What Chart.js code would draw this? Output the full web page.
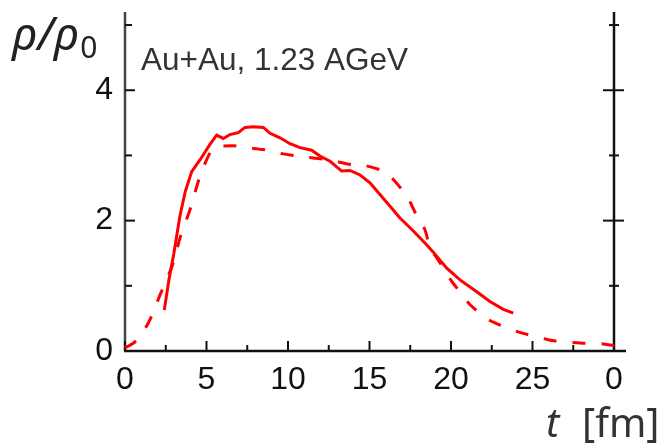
<!DOCTYPE html>
<html><head><meta charset="utf-8">
<script src="https://cdn.jsdelivr.net/npm/chart.js@4/dist/chart.umd.min.js"></script>
<style>html,body{margin:0;padding:0;background:#fff;overflow:hidden}#wrap{width:658px;height:445px}</style>
</head><body><div id="wrap"><canvas id="c" width="658" height="445"></canvas></div>
<script>
// ---- data ----
const solidT   = [2.41, 2.7, 3.0, 3.37, 3.7, 4.09, 4.6, 5.21, 5.62, 6.03, 6.44, 6.95, 7.36, 7.87, 8.49, 8.9, 9.51, 10.12, 10.74, 11.45, 11.96, 12.58, 13.29, 13.8, 14.42, 15.03, 15.64, 16.26, 16.87, 17.69, 18.5, 18.9, 19.74, 20.55, 21.58, 22.39, 23.21, 23.82];
const solidRho = [0.63, 1.1, 1.5, 2.07, 2.45, 2.75, 2.93, 3.17, 3.31, 3.26, 3.32, 3.35, 3.43, 3.44, 3.43, 3.34, 3.27, 3.18, 3.12, 3.08, 2.99, 2.91, 2.76, 2.77, 2.70, 2.58, 2.40, 2.22, 2.04, 1.84, 1.63, 1.52, 1.27, 1.09, 0.91, 0.76, 0.64, 0.58];
const dashT    = [0, 0.61, 1.43, 2.15, 2.96, 3.37, 3.99, 4.6, 5.21, 5.52, 6.64, 7.36, 8.49, 9.1, 10.33, 10.94, 12.5, 13.9, 14.62, 15.64, 16.15, 17.07, 17.48, 18.0, 18.4, 18.7, 19.2, 19.74, 20.04, 20.76, 21.17, 22.19, 22.7, 23.82, 24.43, 25.56, 26.2, 27.4, 28.1, 29.25, 29.96, 30.5];
const dashRho  = [0.05, 0.14, 0.43, 0.86, 1.35, 1.73, 2.17, 2.68, 3.04, 3.12, 3.15, 3.12, 3.09, 3.05, 3.0, 2.98, 2.93, 2.86, 2.85, 2.78, 2.71, 2.45, 2.29, 2.02, 1.86, 1.60, 1.40, 1.19, 1.07, 0.84, 0.71, 0.50, 0.43, 0.32, 0.27, 0.20, 0.16, 0.13, 0.12, 0.11, 0.09, 0.14];
const xTickValues = [0, 5, 10, 15, 20, 25, 30];
const xTickLabels = ['0', '5', '10', '15', '20', '25', '0'];
const xMinorValues = [2.5, 7.5, 12.5, 17.5, 22.5, 27.5];
const yTickValues = [0, 2, 4];
const yTickLabels = ['0', '2', '4'];
const yMinorValues = [1, 3, 5];
const annotationText = 'Au+Au, 1.23 AGeV';
const xTitleVar = 't';
const xTitleUnit = '[fm]';
const yTitleMain = 'ρ/ρ';
const yTitleSub = '0';

const toPts = (xs, ys) => xs.map((v, i) => ({x: v, y: ys[i]}));
const noPad = s => { s.paddingTop = 0; s.paddingBottom = 0; s.paddingLeft = 0; s.paddingRight = 0; };

const axisPlugin = {
  id: 'axisPlugin',
  beforeDatasetsDraw(chart) {
    const ctx = chart.ctx, a = chart.chartArea;
    const xs = chart.scales.x, ys = chart.scales.y;
    ctx.save();
    ctx.lineCap = 'butt';
    ctx.strokeStyle = '#444'; ctx.lineWidth = 2.5;
    ctx.beginPath(); ctx.moveTo(a.left, a.top); ctx.lineTo(a.left, a.bottom); ctx.stroke();
    ctx.strokeStyle = '#111';
    ctx.beginPath(); ctx.moveTo(a.right, a.top); ctx.lineTo(a.right, a.bottom); ctx.stroke();
    ctx.beginPath(); ctx.moveTo(a.left - 1, a.bottom); ctx.lineTo(a.right + 12, a.bottom); ctx.stroke();
    ctx.lineWidth = 2;
    xTickValues.forEach(v => { const p = xs.getPixelForValue(v); ctx.beginPath(); ctx.moveTo(p, a.bottom); ctx.lineTo(p, a.bottom - 10); ctx.stroke(); });
    xMinorValues.forEach(v => { const p = xs.getPixelForValue(v); ctx.beginPath(); ctx.moveTo(p, a.bottom); ctx.lineTo(p, a.bottom - 6); ctx.stroke(); });
    yTickValues.forEach(v => { const p = ys.getPixelForValue(v);
      ctx.beginPath(); ctx.moveTo(a.left, p); ctx.lineTo(a.left + 10, p); ctx.stroke();
      ctx.beginPath(); ctx.moveTo(a.right - 11, p); ctx.lineTo(a.right + 10, p); ctx.stroke(); });
    yMinorValues.forEach(v => { const p = ys.getPixelForValue(v);
      ctx.beginPath(); ctx.moveTo(a.left, p); ctx.lineTo(a.left + 7, p); ctx.stroke();
      ctx.beginPath(); ctx.moveTo(a.right - 5, p); ctx.lineTo(a.right + 5, p); ctx.stroke(); });
    ctx.restore();
  },
  afterDraw(chart) {
    const ctx = chart.ctx;
    ctx.save();
    ctx.textBaseline = 'alphabetic'; ctx.textAlign = 'left';
    ctx.fillStyle = '#222';
    ctx.font = 'italic 46px "Noto Sans"';
    ctx.fillText(yTitleMain, 12, 50);
    const w = ctx.measureText(yTitleMain).width;
    ctx.font = '30px "Noto Sans"';
    ctx.fillText(yTitleSub, 12 + w + 1, 58);
    ctx.fillStyle = '#333';
    ctx.font = '31.5px "Liberation Sans"';
    ctx.fillText(annotationText, 141, 70);
    ctx.font = 'italic 40px "Noto Sans"';
    ctx.fillText(xTitleVar, 546, 437);
    ctx.font = '40px "Noto Sans"';
    ctx.fillText(xTitleUnit, 582, 437);
    ctx.restore();
  }
};

new Chart(document.getElementById('c'), {
  type: 'line',
  data: {
    datasets: [
      {data: toPts(solidT, solidRho), borderColor: '#ff0000', borderWidth: 3, pointRadius: 0, tension: 0, fill: false},
      {data: toPts(dashT, dashRho), borderColor: '#ff0000', borderWidth: 3, borderDash: [13, 16], pointRadius: 0, tension: 0.3, fill: false, clip: 10}
    ]
  },
  options: {
    responsive: false, animation: false, devicePixelRatio: 1,
    layout: {padding: {top: 12, left: 0, right: 0, bottom: 0}},
    plugins: {legend: {display: false}, tooltip: {enabled: false}},
    scales: {
      x: {type: 'linear', min: 0, max: 30,
        afterBuildTicks: s => { s.ticks = xTickValues.map(v => ({value: v})); },
        afterFit: s => { s.height = 94; noPad(s); },
        ticks: {autoSkip: false, maxRotation: 0, padding: 10, color: '#111',
          font: {family: 'Liberation Sans', size: 32},
          callback: v => xTickLabels[xTickValues.indexOf(v)]},
        grid: {display: false, drawTicks: false}, border: {display: false}},
      y: {type: 'linear', min: 0, max: 5.2,
        afterBuildTicks: s => { s.ticks = yTickValues.map(v => ({value: v})); },
        afterFit: s => { s.width = 125; noPad(s); },
        ticks: {padding: 12, color: '#111', font: {family: 'Liberation Sans', size: 32},
          callback: v => yTickLabels[yTickValues.indexOf(v)]},
        grid: {display: false, drawTicks: false}, border: {display: false}},
      yR: {type: 'linear', position: 'right', min: 0, max: 5.2,
        afterFit: s => { s.width = 44; noPad(s); },
        ticks: {display: false}, grid: {display: false, drawTicks: false}, border: {display: false}}
    }
  },
  plugins: [axisPlugin]
});
</script></body></html>
